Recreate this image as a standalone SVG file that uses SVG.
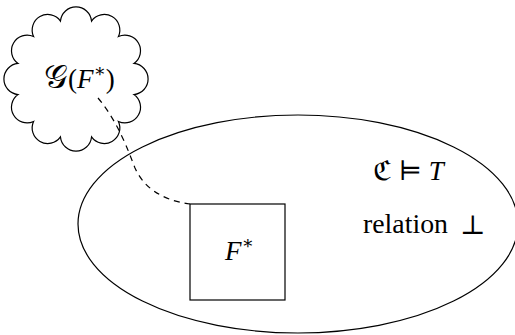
<svg xmlns="http://www.w3.org/2000/svg" width="515" height="335" viewBox="0 0 515 335">
<style>
.shape{fill:none;stroke:#000;stroke-width:1.2}
.lbl{font-family:"Liberation Serif","DejaVu Serif","DejaVu Sans",serif;font-size:27px;fill:#000}
.it{font-style:italic}
.dash{fill:none;stroke:#000;stroke-width:1.2;stroke-dasharray:6 5}
</style>
<rect width="515" height="335" fill="#fff"/>
<g id="world">
<ellipse class="shape" cx="298" cy="224" rx="220" ry="109"/>
<text class="lbl" x="373" y="180">ℭ ⊨ <tspan class="it">T</tspan></text>
<text class="lbl" x="363" y="233" textLength="85" lengthAdjust="spacingAndGlyphs">relation</text>
<text class="lbl" x="460" y="234">⊥</text>
</g>
<g id="fstar">
<rect class="shape" x="190" y="204" width="95" height="96"/>
<text class="lbl" x="225" y="260"><tspan class="it">F</tspan><tspan font-size="18" dy="-11">∗</tspan></text>
</g>
<g id="cloud">
<path class="shape" d="M133.96,94.53 A15.6,15.6 0 0 1 118.43,121.43 A15.6,15.6 0 0 1 91.53,136.96 A15.6,15.6 0 0 1 60.47,136.96 A15.6,15.6 0 0 1 33.57,121.43 A15.6,15.6 0 0 1 18.04,94.53 A15.6,15.6 0 0 1 18.04,63.47 A15.6,15.6 0 0 1 33.57,36.57 A15.6,15.6 0 0 1 60.47,21.04 A15.6,15.6 0 0 1 91.53,21.04 A15.6,15.6 0 0 1 118.43,36.57 A15.6,15.6 0 0 1 133.96,63.47 A15.6,15.6 0 0 1 133.96,94.53 Z"/>
<text class="lbl" x="44" y="88"><tspan font-size="33">𝒢</tspan>(<tspan class="it">F</tspan><tspan font-size="18" dy="-11">∗</tspan><tspan dy="11">)</tspan></text>
</g>
<g id="connectors">
<path class="dash" d="M98,98 C118,122 128,150 135,168 C143,186 160,200 190,204"/>
</g>
</svg>
